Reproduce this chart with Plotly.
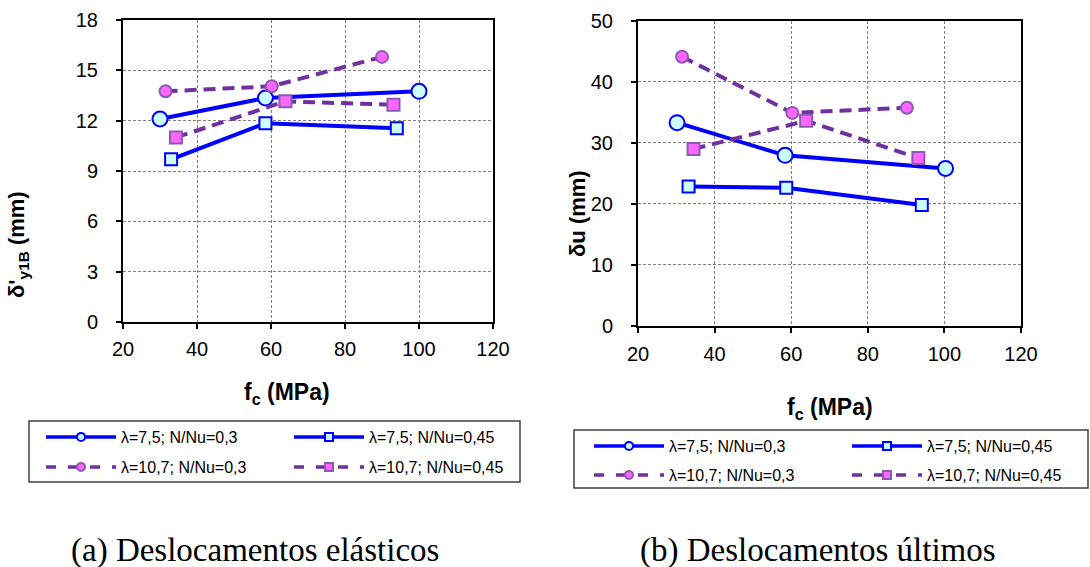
import plotly.graph_objects as go

W, H = 1090, 567

series_names = ["λ=7,5; N/Nu=0,3", "λ=7,5; N/Nu=0,45",
                "λ=10,7; N/Nu=0,3", "λ=10,7; N/Nu=0,45"]

# (a) Deslocamentos elásticos
fc_a_s1 = [30, 58.5, 100]
dy_a_s1 = [12.1, 13.35, 13.75]
fc_a_s2 = [33, 58.5, 94]
dy_a_s2 = [9.7, 11.85, 11.55]
fc_a_s3 = [31.5, 60.2, 90]
dy_a_s3 = [13.75, 14.05, 15.8]
fc_a_s4 = [34.3, 63.9, 93.1]
dy_a_s4 = [11.0, 13.15, 12.95]

# (b) Deslocamentos últimos
fc_b_s1 = [30.2, 58.4, 100.3]
du_b_s1 = [33.3, 27.95, 25.8]
fc_b_s2 = [33.2, 58.7, 94.1]
du_b_s2 = [22.85, 22.65, 19.8]
fc_b_s3 = [31.5, 60.3, 90.2]
du_b_s3 = [44.1, 34.9, 35.75]
fc_b_s4 = [34.5, 63.9, 93.2]
du_b_s4 = [29.0, 33.6, 27.5]

x_ticks = [20, 40, 60, 80, 100, 120]
y_ticks_a = [0, 3, 6, 9, 12, 15, 18]
y_ticks_b = [0, 10, 20, 30, 40, 50]

BLUE = "#0000FF"
CYAN = "#CCFFFF"
PURPLE = "#7030A0"
MAGENTA = "#FF66FF"
PURPLE_EDGE = "#8A5BB0"

def style(i, legend_size=False):
    lw = 4 if not legend_size else 3.5
    dash = "12px,7px" if not legend_size else "10px,12px"
    if i == 0:
        return dict(line=dict(color=BLUE, width=lw),
                    marker=dict(symbol="circle", size=15 if not legend_size else 8, color=CYAN,
                                line=dict(color=BLUE, width=2)))
    if i == 1:
        return dict(line=dict(color=BLUE, width=lw),
                    marker=dict(symbol="square", size=12 if not legend_size else 8, color=CYAN,
                                line=dict(color=BLUE, width=2)))
    if i == 2:
        return dict(line=dict(color=PURPLE, width=lw, dash=dash),
                    marker=dict(symbol="circle", size=12 if not legend_size else 8, color=MAGENTA,
                                line=dict(color=PURPLE_EDGE, width=2)))
    return dict(line=dict(color=PURPLE, width=lw, dash=dash),
                marker=dict(symbol="square", size=12 if not legend_size else 8, color=MAGENTA,
                            line=dict(color=PURPLE_EDGE, width=2)))

fig = go.Figure()

data_a = [(fc_a_s1, dy_a_s1), (fc_a_s2, dy_a_s2), (fc_a_s3, dy_a_s3), (fc_a_s4, dy_a_s4)]
data_b = [(fc_b_s1, du_b_s1), (fc_b_s2, du_b_s2), (fc_b_s3, du_b_s3), (fc_b_s4, du_b_s4)]

for i, (xs, ys) in enumerate(data_a):
    fig.add_trace(go.Scatter(x=xs, y=ys, mode="lines+markers", name=series_names[i],
                             xaxis="x", yaxis="y", showlegend=False, **style(i)))
for i, (xs, ys) in enumerate(data_b):
    fig.add_trace(go.Scatter(x=xs, y=ys, mode="lines+markers", name=series_names[i],
                             xaxis="x2", yaxis="y2", showlegend=False, **style(i)))

# legend entries (one legend per entry so each can be placed like the reference)
legend_ids = ["legend", "legend2", "legend3", "legend4",
              "legend5", "legend6", "legend7", "legend8"]
for k in range(8):
    i = k % 4
    fig.add_trace(go.Scatter(x=[None], y=[None], mode="lines+markers", name=series_names[i],
                             xaxis="x" if k < 4 else "x2", yaxis="y" if k < 4 else "y2",
                             legend=legend_ids[k], showlegend=True, **style(i, True)))

def px_x(p):
    return p / W

def px_y(p):
    return 1 - p / H

axis_common = dict(
    showline=True, linecolor="black", linewidth=2, mirror=True,
    ticks="outside", ticklen=5, tickcolor="black", tickwidth=1.5,
    showgrid=True, gridcolor="#808080", gridwidth=1, griddash="3px,2px",
    zeroline=False, automargin=False,
    tickfont=dict(family="Liberation Sans, Arial", size=20, color="black"),
)

# text start positions (px) and row centres for the legend entries
leg_text_x = [122, 370, 122, 370, 670, 928, 670, 928]
leg_row_y = [437, 437, 467, 467, 446, 446, 475, 475]

legends = {}
for k in range(8):
    legends[legend_ids[k]] = dict(
        orientation="v", x=px_x(leg_text_x[k] - 81), y=px_y(leg_row_y[k]),
        xanchor="left", yanchor="middle", borderwidth=0, itemwidth=70,
        bgcolor="rgba(0,0,0,0)", font=dict(family="Liberation Sans, Arial", size=16, color="black"))

fig.update_layout(
    width=W, height=H,
    margin=dict(l=0, r=0, t=0, b=0, autoexpand=False),
    paper_bgcolor="white", plot_bgcolor="white",
    font=dict(family="Liberation Sans, Arial", color="black"),
    xaxis=dict(domain=[px_x(123), px_x(493)], range=[20, 120], tickvals=x_ticks,
               anchor="y", ticklabelstandoff=3, **axis_common),
    yaxis=dict(domain=[px_y(322), px_y(20)], range=[0, 18], tickvals=y_ticks_a,
               anchor="x", ticklabelstandoff=14, **axis_common),
    xaxis2=dict(domain=[px_x(638), px_x(1021)], range=[20, 120], tickvals=x_ticks,
                anchor="y2", ticklabelstandoff=4, **axis_common),
    yaxis2=dict(domain=[px_y(326), px_y(20.7)], range=[0, 50], tickvals=y_ticks_b,
                anchor="x2", ticklabelstandoff=14, **axis_common),
    shapes=[
        dict(type="rect", xref="paper", yref="paper", x0=px_x(29), x1=px_x(520),
             y0=px_y(482), y1=px_y(421), line=dict(color="#404040", width=1.5)),
        dict(type="rect", xref="paper", yref="paper", x0=px_x(574), x1=px_x(1088),
             y0=px_y(488), y1=px_y(430), line=dict(color="#404040", width=1.5)),
    ],
    annotations=[
        dict(text="<b>δ'<sub>y1B</sub> (mm)</b>", textangle=-90, xref="paper", yref="paper",
             x=px_x(18), y=px_y(245), showarrow=False, xanchor="center", yanchor="middle",
             font=dict(size=22, color="black")),
        dict(text="<b>δu (mm)</b>", textangle=-90, xref="paper", yref="paper",
             x=px_x(577), y=px_y(214), showarrow=False, xanchor="center", yanchor="middle",
             font=dict(size=22, color="black")),
        dict(text="<b>f<sub>c</sub> (MPa)</b>", xref="paper", yref="paper",
             x=px_x(287), y=px_y(393), showarrow=False, xanchor="center", yanchor="middle",
             font=dict(size=23, color="black")),
        dict(text="<b>f<sub>c</sub> (MPa)</b>", xref="paper", yref="paper",
             x=px_x(830), y=px_y(408), showarrow=False, xanchor="center", yanchor="middle",
             font=dict(size=23, color="black")),
        dict(text="(a) Deslocamentos elásticos", xref="paper", yref="paper",
             x=px_x(255), y=px_y(550), showarrow=False, xanchor="center", yanchor="middle",
             font=dict(family="Liberation Serif, Times New Roman", size=33, color="black")),
        dict(text="(b) Deslocamentos últimos", xref="paper", yref="paper",
             x=px_x(818), y=px_y(550), showarrow=False, xanchor="center", yanchor="middle",
             font=dict(family="Liberation Serif, Times New Roman", size=33, color="black")),
    ],
    **legends,
)

fig.write_html("out.html")
